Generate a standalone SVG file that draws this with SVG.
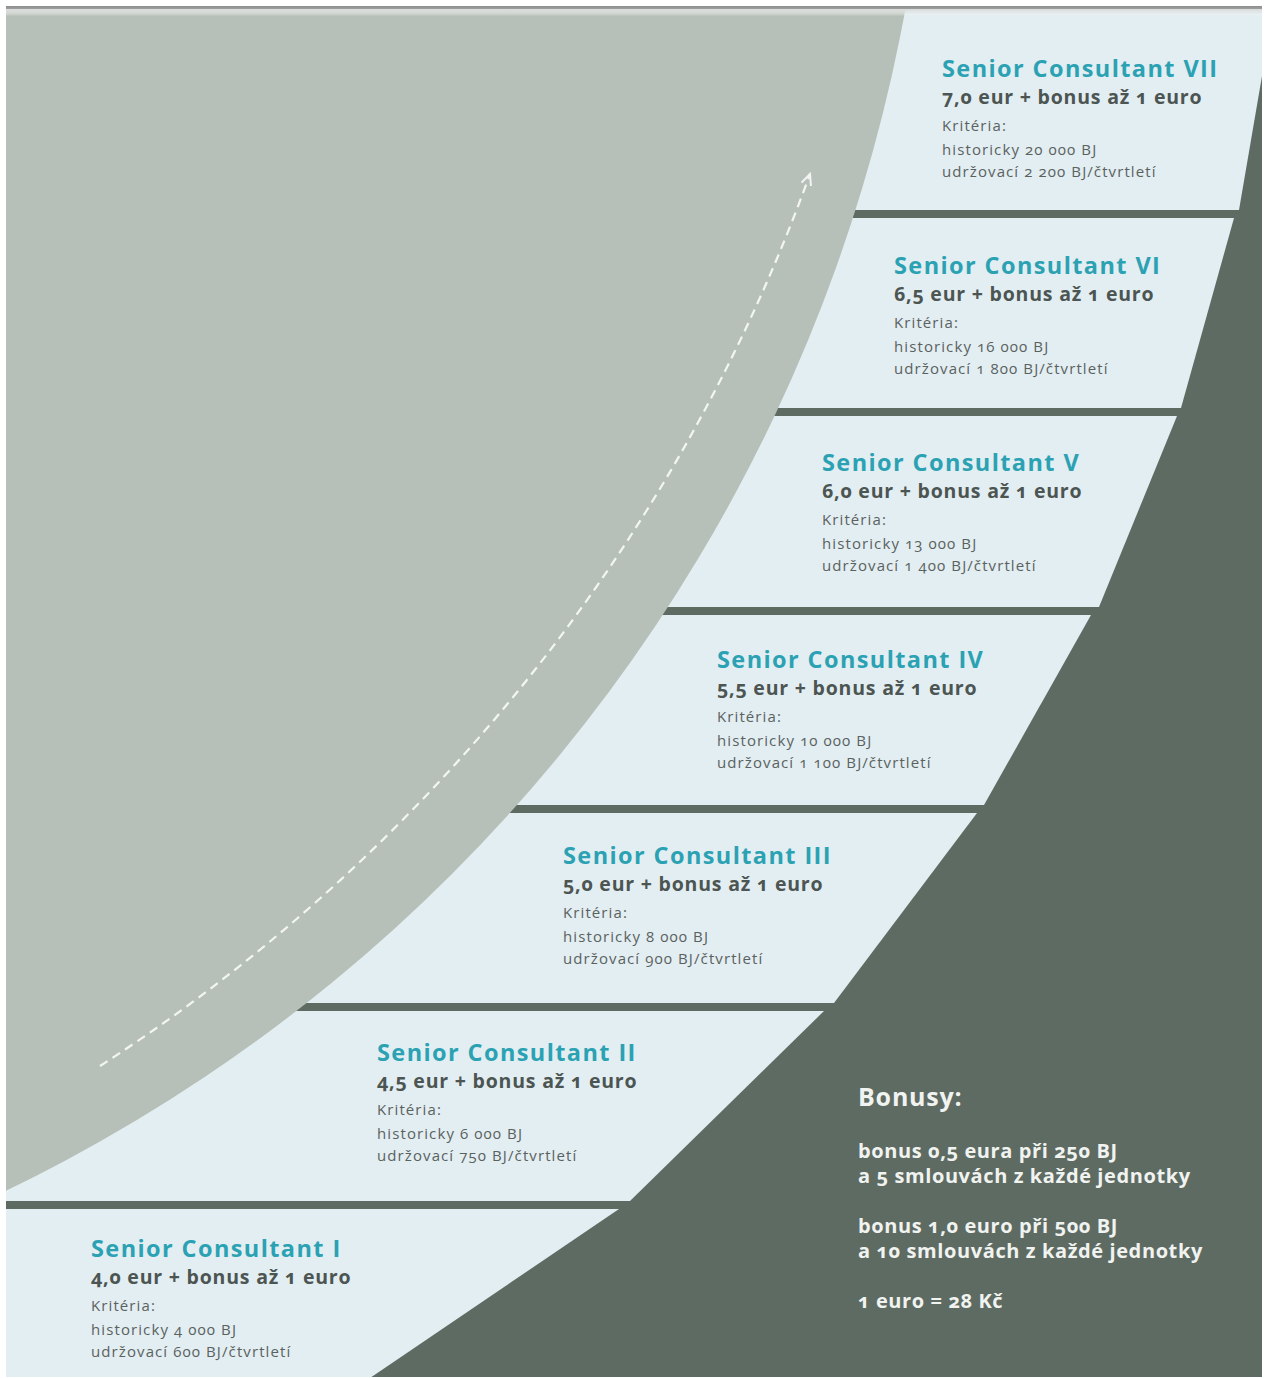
<svg xmlns="http://www.w3.org/2000/svg" width="1267" height="1378" viewBox="0 0 1267 1378">
  <defs>
    <style>
      .band { fill: #e3eef2; }
      .title { font-family: "Open Sans", "Liberation Sans", sans-serif; font-weight: 700; font-size: 23.5px; letter-spacing: 1.4px; fill: #2ba2b3; font-variant-numeric: oldstyle-nums; }
      .price { font-family: "Open Sans", "Liberation Sans", sans-serif; font-weight: 700; font-size: 19.5px; letter-spacing: 0.8px; fill: #4c5552; font-variant-numeric: oldstyle-nums; }
      .crit { font-family: "Open Sans", "Liberation Sans", sans-serif; font-size: 15px; letter-spacing: 1.1px; fill: #5a625f; font-variant-numeric: oldstyle-nums; }
      .bonus-head { font-family: "Open Sans", "Liberation Sans", sans-serif; font-weight: 700; font-size: 25px; letter-spacing: 0.8px; fill: #f1f3f0; }
      .bonus { font-family: "Open Sans", "Liberation Sans", sans-serif; font-weight: 700; font-size: 20px; letter-spacing: 0.6px; fill: #f1f3f0; font-variant-numeric: oldstyle-nums; }
      .route { fill: none; stroke: #f3f5f2; stroke-width: 2.2; stroke-dasharray: 9 6; }
    </style>
    <clipPath id="frame">
      <rect x="6" y="6" width="1256" height="1371"/>
    </clipPath>
    <linearGradient id="topEdge" x1="0" y1="0" x2="0" y2="1">
      <stop offset="0" stop-color="#8b8e8d"/>
      <stop offset="0.25" stop-color="#9a9d9c"/>
      <stop offset="0.35" stop-color="#d9dcdb"/>
      <stop offset="0.7" stop-color="#e4e6e5" stop-opacity="0.6"/>
      <stop offset="1" stop-color="#ffffff" stop-opacity="0"/>
    </linearGradient>
    <marker id="arrowhead" viewBox="0 0 14 12" refX="12" refY="6" markerWidth="14" markerHeight="12" markerUnits="userSpaceOnUse" orient="auto">
      <path d="M1,1 L12,6 L1,11" fill="none" stroke="#f3f5f2" stroke-width="2" stroke-dasharray="none"/>
    </marker>
  </defs>

  <rect width="1267" height="1378" fill="#ffffff"/>

  <g clip-path="url(#frame)">
    <!-- dark ground; the gaps between the steps show through as bars -->
    <rect x="6" y="6" width="1256" height="1371" fill="#5e6b63"/>

    <g id="step-7">
      <polygon class="band" points="6,6 1274,6 1239,210 6,210"/>
      <text class="title" x="942" y="77">Senior Consultant VII</text>
      <text class="price" x="942" y="104">7,0 eur + bonus až 1 euro</text>
      <text class="crit" x="942" y="131">Kritéria:</text>
      <text class="crit" x="942" y="155">historicky 20 000 BJ</text>
      <text class="crit" x="942" y="177">udržovací 2 200 BJ/čtvrtletí</text>
    </g>

    <g id="step-6">
      <polygon class="band" points="6,218 1234,218 1181,408 6,408"/>
      <text class="title" x="894" y="274">Senior Consultant VI</text>
      <text class="price" x="894" y="301">6,5 eur + bonus až 1 euro</text>
      <text class="crit" x="894" y="328">Kritéria:</text>
      <text class="crit" x="894" y="352">historicky 16 000 BJ</text>
      <text class="crit" x="894" y="374">udržovací 1 800 BJ/čtvrtletí</text>
    </g>

    <g id="step-5">
      <polygon class="band" points="6,416 1177,416 1099,607 6,607"/>
      <text class="title" x="822" y="471">Senior Consultant V</text>
      <text class="price" x="822" y="498">6,0 eur + bonus až 1 euro</text>
      <text class="crit" x="822" y="525">Kritéria:</text>
      <text class="crit" x="822" y="549">historicky 13 000 BJ</text>
      <text class="crit" x="822" y="571">udržovací 1 400 BJ/čtvrtletí</text>
    </g>

    <g id="step-4">
      <polygon class="band" points="6,615 1091,615 984,805 6,805"/>
      <text class="title" x="717" y="668">Senior Consultant IV</text>
      <text class="price" x="717" y="695">5,5 eur + bonus až 1 euro</text>
      <text class="crit" x="717" y="722">Kritéria:</text>
      <text class="crit" x="717" y="746">historicky 10 000 BJ</text>
      <text class="crit" x="717" y="768">udržovací 1 100 BJ/čtvrtletí</text>
    </g>

    <g id="step-3">
      <polygon class="band" points="6,813 977,813 834,1003 6,1003"/>
      <text class="title" x="563" y="864">Senior Consultant III</text>
      <text class="price" x="563" y="891">5,0 eur + bonus až 1 euro</text>
      <text class="crit" x="563" y="918">Kritéria:</text>
      <text class="crit" x="563" y="942">historicky 8 000 BJ</text>
      <text class="crit" x="563" y="964">udržovací 900 BJ/čtvrtletí</text>
    </g>

    <g id="step-2">
      <polygon class="band" points="6,1011 824,1011 630,1201 6,1201"/>
      <text class="title" x="377" y="1061">Senior Consultant II</text>
      <text class="price" x="377" y="1088">4,5 eur + bonus až 1 euro</text>
      <text class="crit" x="377" y="1115">Kritéria:</text>
      <text class="crit" x="377" y="1139">historicky 6 000 BJ</text>
      <text class="crit" x="377" y="1161">udržovací 750 BJ/čtvrtletí</text>
    </g>

    <g id="step-1">
      <polygon class="band" points="6,1209 619,1209 370,1378 6,1378"/>
      <text class="title" x="91" y="1257">Senior Consultant I</text>
      <text class="price" x="91" y="1284">4,0 eur + bonus až 1 euro</text>
      <text class="crit" x="91" y="1311">Kritéria:</text>
      <text class="crit" x="91" y="1335">historicky 4 000 BJ</text>
      <text class="crit" x="91" y="1357">udržovací 600 BJ/čtvrtletí</text>
    </g>

    <!-- large grey quarter disc in the upper left -->
    <circle id="growth-area" cx="-707" cy="-285" r="1639" fill="#b7c0b8"/>

    <g id="connectors">
      <path class="route" d="M100,1066 A1783,1783 0 0 0 810,174" marker-end="url(#arrowhead)"/>
    </g>

    <g id="bonuses">
      <text class="bonus-head" x="858" y="1106">Bonusy:</text>
      <text class="bonus" x="858" y="1158">bonus 0,5 eura při 250 BJ</text>
      <text class="bonus" x="858" y="1183">a 5 smlouvách z každé jednotky</text>
      <text class="bonus" x="858" y="1233">bonus 1,0 euro při 500 BJ</text>
      <text class="bonus" x="858" y="1258">a 10 smlouvách z každé jednotky</text>
      <text class="bonus" x="858" y="1308">1 euro = 28 Kč</text>
    </g>

    <!-- bevelled top edge of the panel -->
    <rect x="6" y="6" width="1256" height="10" fill="url(#topEdge)"/>
  </g>
</svg>
